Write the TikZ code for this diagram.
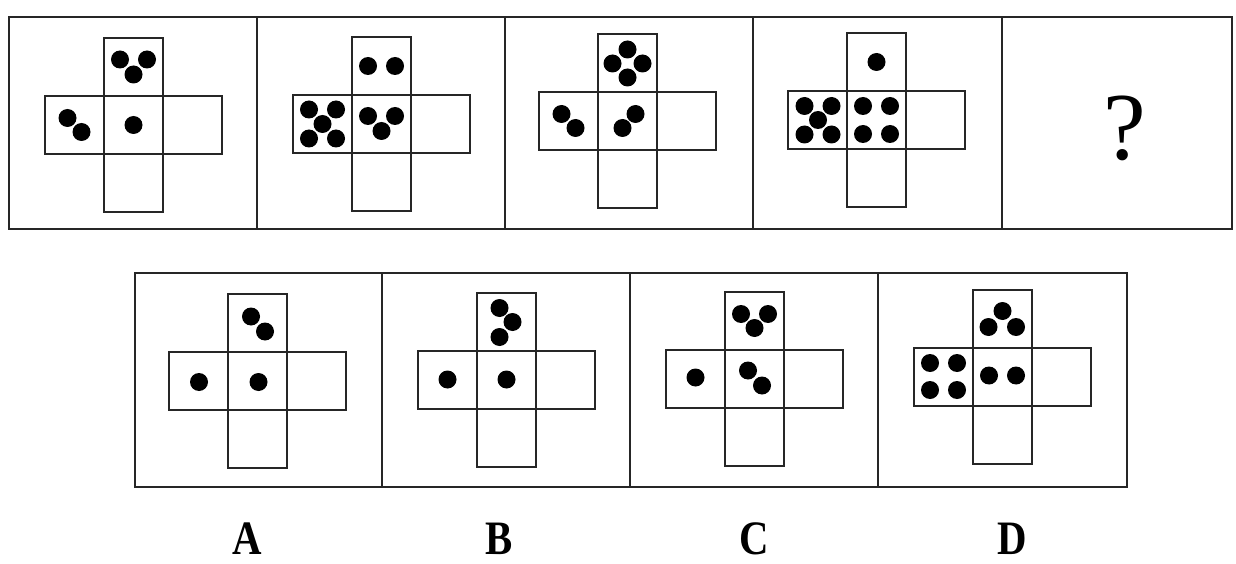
\documentclass[tikz,border=0pt]{standalone}
\usepackage{fontspec}
\setmainfont{Liberation Serif}
\tikzset{
  frame/.style={draw=black!85, line width=2pt},
  net/.style={draw=black!85, line width=2.1pt},
  pip/.style={fill=black},
  choicelabel/.style={font=\fontsize{48}{48}\selectfont\bfseries, anchor=base, inner sep=0pt, xscale=0.85},
  qmark/.style={font=\fontsize{96}{96}\selectfont, inner sep=0pt}
}
\newcommand\mynet[2]{%
  \draw[net] (#1,#2) rectangle (#1+59,#2+174);
  \draw[net] (#1-59,#2+58) rectangle (#1+118,#2+116);}
\newcommand\mypips[3]{%
  \begin{scope}[shift={(#1,#2)}]
    \foreach \dx/\dy in {#3} \fill[pip] (\dx,\dy) circle[radius=9];
  \end{scope}}
\begin{document}
\begin{tikzpicture}[x=1pt,y=-1pt]
\useasboundingbox (0,0) rectangle (1236,564);
\fill[white] (0,0) rectangle (1236,564);
% top row frame
\draw[frame] (9,17) rectangle (1232,229);
\foreach \xx in {257,505,753,1002} \draw[frame] (\xx,17) -- (\xx,229);
% bottom row frame
\draw[frame] (135,273) rectangle (1127,487);
\foreach \xx in {382,630,878} \draw[frame] (\xx,273) -- (\xx,487);
% panel 1
\mynet{104}{38}
\mypips{133.5}{67}{-13.5/-7.5, 13.5/-7.5, 0/7.5}
\mypips{74.5}{125}{-7/-7, 7/7}
\mypips{133.5}{125}{0/0}
% panel 2
\mynet{352}{37}
\mypips{381.5}{66}{-13.5/0, 13.5/0}
\mypips{322.5}{124}{-13.5/-14.5, 13.5/-14.5, 0/0, -13.5/14.5, 13.5/14.5}
\mypips{381.5}{124}{-13.5/-8, 13.5/-8, 0/7}
% panel 3
\mynet{598}{34}
\mypips{627.5}{63.5}{0/-14, -15/0, 15/0, 0/14}
\mypips{568.5}{121}{-7/-7, 7/7}
\mypips{628.5}{121}{7/-7, -6/7}
% panel 4
\mynet{847}{33}
\mypips{876.5}{62}{0/0}
\mypips{818}{120}{-13.5/-14, 13.5/-14, 0/0, -13.5/14.5, 13.5/14.5}
\mypips{876.5}{120}{-13.5/-14, 13.5/-14, -13.5/14, 13.5/14}
% panel 5
\node[qmark] (q) at (1125,128) {?};
% option A
\mynet{228}{294}
\mypips{257.5}{323.5}{-6.5/-7, 7.5/8}
\mypips{199}{382}{0/0}
\mypips{258.5}{382}{0/0}
% option B
\mynet{477}{293}
\mypips{506.5}{322}{-7/-14, 6/0, -7/15}
\mypips{447.5}{379.5}{0/0}
\mypips{506.5}{379.5}{0/0}
% option C
\mynet{725}{292}
\mypips{754.5}{320}{-13.5/-6, 13.5/-6, 0/8}
\mypips{695.5}{377.5}{0/0}
\mypips{754.5}{377.5}{-6.5/-7, 7.5/8}
% option D
\mynet{973}{290}
\mypips{1002.5}{318.5}{0/-7.5, -14/8.5, 13.5/8.5}
\mypips{943.5}{376.5}{-13.5/-13.5, 13.5/-13.5, -13.5/13.5, 13.5/13.5}
\mypips{1002.5}{376.5}{-13.5/-1, 13.5/-1}
% labels
\node[choicelabel] (la) at (247,554) {A};
\node[choicelabel] (lb) at (499,554) {B};
\node[choicelabel] (lc) at (754,554) {C};
\node[choicelabel] (ld) at (1012,554) {D};
\end{tikzpicture}
\end{document}
